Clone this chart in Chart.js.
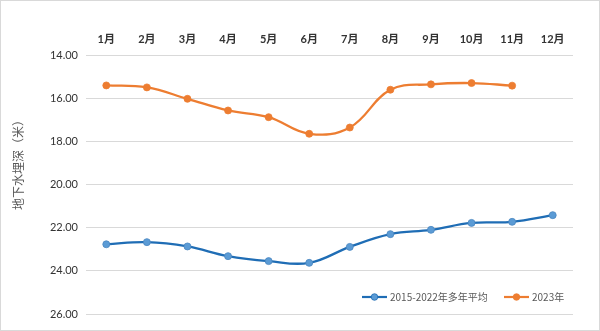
<!DOCTYPE html>
<html>
<head>
<meta charset="utf-8">
<script src="https://cdn.jsdelivr.net/npm/chart.js@4/dist/chart.umd.min.js"></script>
<style>
html,body{margin:0;padding:0;background:#fff;}
#wrap{position:relative;width:600px;height:331px;box-sizing:border-box;border:1px solid #d9d9d9;}
canvas{display:block;}
</style>
</head>
<body>
<div id="wrap"><canvas id="c" width="598" height="329"></canvas></div>
<script>
const months = ["1月","2月","3月","4月","5月","6月","7月","8月","9月","10月","11月","12月"];
const avgName = "2015-2022年多年平均";
const avgValues = [22.77, 22.67, 22.87, 23.32, 23.55, 23.63, 22.89, 22.30, 22.10, 21.78, 21.73, 21.42];
const curName = "2023年";
const curValues = [15.41, 15.50, 16.03, 16.57, 16.88, 17.65, 17.36, 15.61, 15.36, 15.30, 15.42, null];
const yTitle = "地下水埋深（米）";
const yMin = 14, yMax = 26, yStep = 2;

const FONT = "Lato, 'Noto Sans CJK SC', sans-serif";
const BLUE_LINE = "#1f6db5", BLUE_PT = "#5b9bd5";
const ORANGE = "#ed7d31";

const extras = {
  id: "extras",
  afterDraw(chart) {
    const ctx = chart.ctx;
    ctx.save();
    // y axis title
    ctx.fillStyle = "#595959";
    ctx.font = "12px 'Noto Sans CJK SC', sans-serif";
    ctx.textAlign = "center";
    ctx.textBaseline = "middle";
    ctx.translate(17, 161);
    ctx.rotate(-Math.PI / 2);
    ctx.fillText(yTitle, 0, 0);
    ctx.restore();

    // legend
    ctx.save();
    const ly = 296;
    const items = [
      {x: 361, name: avgName, line: BLUE_LINE, pt: BLUE_PT},
      {x: 503, name: curName, line: ORANGE, pt: ORANGE}
    ];
    ctx.font = "10px 'Noto Sans CJK SC', sans-serif";
    ctx.textBaseline = "middle";
    ctx.textAlign = "left";
    items.forEach(it => {
      ctx.strokeStyle = it.line;
      ctx.lineWidth = 2.2;
      ctx.beginPath();
      ctx.moveTo(it.x, ly);
      ctx.lineTo(it.x + 25, ly);
      ctx.stroke();
      ctx.beginPath();
      ctx.arc(it.x + 12.5, ly, 3.3, 0, Math.PI * 2);
      ctx.fillStyle = it.pt;
      ctx.fill();
      ctx.lineWidth = 0.8;
      ctx.strokeStyle = it.line;
      ctx.stroke();
      ctx.fillStyle = "#595959";
      ctx.fillText(it.name, it.x + 28, ly + 0.5);
    });
    ctx.restore();
  }
};

new Chart(document.getElementById("c"), {
  type: "line",
  data: {
    labels: months,
    datasets: [
      {
        label: avgName,
        data: avgValues,
        borderColor: BLUE_LINE,
        backgroundColor: BLUE_PT,
        pointBackgroundColor: BLUE_PT,
        pointBorderColor: "#4a86c0",
        pointBorderWidth: 0.8,
        pointRadius: 3.5,
        borderWidth: 2.3,
        tension: 0.4,
        fill: false
      },
      {
        label: curName,
        data: curValues,
        borderColor: ORANGE,
        backgroundColor: ORANGE,
        pointBackgroundColor: ORANGE,
        pointBorderColor: ORANGE,
        pointBorderWidth: 0.8,
        pointRadius: 3.5,
        borderWidth: 2.3,
        tension: 0.4,
        fill: false,
        spanGaps: false
      }
    ]
  },
  options: {
    responsive: false,
    animation: false,
    devicePixelRatio: 1,
    layout: {padding: {left: 0, right: 26, top: 0, bottom: 16}},
    plugins: {legend: {display: false}, tooltip: {enabled: false}},
    scales: {
      x: {
        type: "category",
        position: "top",
        offset: true,
        grid: {display: false, drawTicks: false},
        border: {display: false},
        ticks: {
          color: "#333333",
          font: {family: FONT, size: 11, weight: "bold"},
          padding: 9,
          maxRotation: 0,
          autoSkip: false
        },
        afterFit(s) { s.height = 54; }
      },
      y: {
        reverse: true,
        min: yMin,
        max: yMax,
        grid: {color: "#d9d9d9", lineWidth: 1, drawTicks: false},
        border: {display: false},
        ticks: {
          stepSize: yStep,
          color: "#333333",
          font: {family: FONT, size: 11},
          padding: 8,
          callback: v => Number(v).toFixed(2)
        },
        afterFit(s) { s.width = 85; }
      }
    }
  },
  plugins: [extras]
});
</script>
</body>
</html>
